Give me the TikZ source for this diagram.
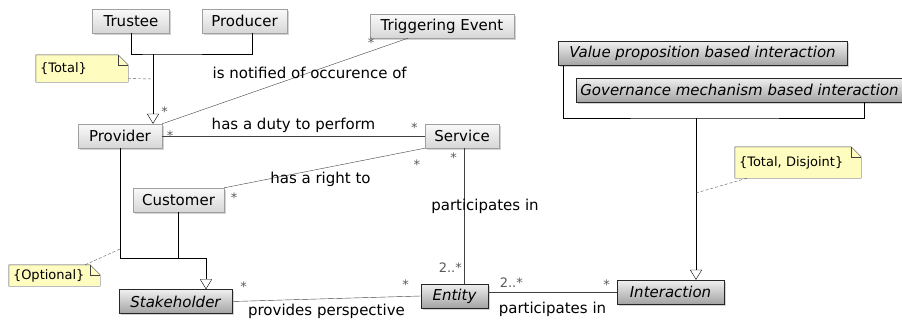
\documentclass[tikz,border=0pt]{standalone}
\usepackage{fontspec}
\setmainfont{DejaVu Sans}
\usetikzlibrary{arrows.meta,positioning,shadows}

\begin{document}
\begin{tikzpicture}[
    x=1pt, y=-1pt,
    cls/.style={draw=gray!75, top color=gray!4, bottom color=gray!32,
      minimum height=24pt, inner sep=2pt, font=\fontsize{15}{17}\selectfont,
      drop shadow={shadow xshift=1.5pt, shadow yshift=-1.5pt, opacity=0.35}},
    abstract/.style={cls, draw=black!85, top color=gray!12, bottom color=gray!72,
      font=\fontsize{15}{17}\selectfont\itshape},
    note/.style={fill=yellow!25, inner sep=3pt, font=\fontsize{13}{15}\selectfont},
    noteframe/.style={draw=black!75, thin},
    assoc/.style={draw=black!75, thin},
    genline/.style={draw=black, thin},
    gen/.style={genline, -{Triangle[open, width=12pt, length=10pt]}},
    noteline/.style={draw=gray!70!black, densely dashed, thin},
    mult/.style={font=\fontsize{13}{15}\selectfont, text=black!65, inner sep=0pt},
    rolename/.style={font=\fontsize{15}{17}\selectfont, inner sep=1pt},
]
\useasboundingbox (0,0) rectangle (902,324);

% ---------------------------------------------------------
% classes
% ---------------------------------------------------------
\node[cls, minimum width=77pt]  (trustee)  at (131,21)  {Trustee};
\node[cls, minimum width=85pt]  (producer) at (244.5,21) {Producer};
\node[cls, minimum width=144pt] (trig)     at (442,26)  {Triggering Event};
\node[cls, minimum width=84pt]  (provider) at (120,136) {Provider};
\node[cls, minimum width=74pt]  (service)  at (462,136) {Service};
\node[cls, minimum width=91pt]  (customer) at (178.5,200) {Customer};

\node[abstract, minimum width=113pt] (stake)   at (175.5,301.5) {Stakeholder};
\node[abstract, minimum width=67pt]  (entity)  at (454.5,296)   {Entity};
\node[abstract, minimum width=107pt] (inter)   at (670.5,292)   {Interaction};
\node[abstract, minimum width=289pt] (value)   at (702.5,53.5)  {Value proposition based interaction};
\node[abstract, minimum width=327pt] (gov)     at (739.5,90)    {Governance mechanism based interaction};

% ---------------------------------------------------------
% generalisations
% ---------------------------------------------------------
\coordinate (pj) at (153,54);
\coordinate (pn) at (153,79);
\draw[genline] (trustee.south) |- (pj) -| ([xshift=7.5pt]producer.south);
\draw[gen] (pj) -- (pj |- provider.north);

\coordinate (sj) at (206,258);
\coordinate (sn) at (120,249);
\draw[genline] (provider.south) |- (sj);
\draw[genline] (customer.south) -- (customer.south |- sj);
\draw[gen] (sj) -- (sj |- stake.north);

\coordinate (ij) at (696,118);
\coordinate (in) at (696,193);
\draw[genline] ([xshift=-139.5pt]value.south) |- (ij) -| ([xshift=124.5pt]gov.south);
\draw[gen] (ij) -- (ij |- inter.north);

% ---------------------------------------------------------
% associations
% ---------------------------------------------------------
\draw[assoc] (provider.north east) -- ([xshift=-34pt]trig.south)
  node[rolename, pos=0.6] {is notified of occurence of}
  node[mult, pos=0.01, above=6pt] {*}
  node[mult, pos=0.85, above=3pt] {*};

\draw[assoc] (provider.east) -- (service.west)
  node[rolename, midway, above=2pt] {has a duty to perform}
  node[mult, pos=0.03, below=-5pt] {*}
  node[mult, pos=0.96, above=3pt] {*};

\draw[assoc] (customer.north east) -- (service.south west)
  node[rolename, pos=0.48, yshift=-11pt] {has a right to}
  node[mult, pos=0.05, below=7pt] {*}
  node[mult, pos=0.96, below=10pt] {*};

\draw[assoc] ([xshift=2pt]service.south) -- ([xshift=2pt]service.south |- entity.north)
  node[rolename, pos=0.43, xshift=21pt] {participates in}
  node[mult, pos=0.07, left=7pt] {*}
  node[mult, pos=0.88, left=2pt] {2..*};

\draw[assoc] (stake.east) -- (entity.west)
  node[rolename, midway, below=4pt] {provides perspective}
  node[mult, pos=0.06, above=9pt] {*}
  node[mult, pos=0.92, above=7pt] {*};

\draw[assoc] (inter.west -| entity.east) -- (inter.west)
  node[rolename, midway, below=9pt] {participates in}
  node[mult, pos=0.18, above=4pt] {2..*}
  node[mult, pos=0.92, above=2pt] {*};

% ---------------------------------------------------------
% constraint notes
% ---------------------------------------------------------
\node[note, minimum width=92pt, minimum height=27pt, align=left, text width=84pt] (total) at (82,68.5) {\{Total\}};
\node[note, minimum width=91pt, minimum height=21pt, align=left, text width=83pt] (optional) at (54.5,275.5) {\{Optional\}};
\node[note, minimum width=126pt, minimum height=31pt, align=left, text width=118pt] (disjoint) at (798,162.5) {\{Total, Disjoint\}};

\foreach \n in {total,optional,disjoint}
{
  \fill[white] ([xshift=-10pt]\n.north east) -- (\n.north east) -- ([yshift=-10pt]\n.north east) -- cycle;
  \draw[noteframe] (\n.south west) -- (\n.north west) -- ([xshift=-10pt]\n.north east)
    -- ([yshift=-10pt]\n.north east) -- (\n.south east) -- cycle;
  \draw[noteframe] ([xshift=-10pt]\n.north east) -- ([xshift=-10pt,yshift=-10pt]\n.north east)
    -- ([yshift=-10pt]\n.north east);
}

\draw[noteline] ([yshift=-10pt]total.east) -- (pn);
\draw[noteline] ([xshift=-15pt]optional.north east) -- (sn);
\draw[noteline] ([xshift=12pt]disjoint.south west) -- (in);

\end{tikzpicture}
\end{document}
